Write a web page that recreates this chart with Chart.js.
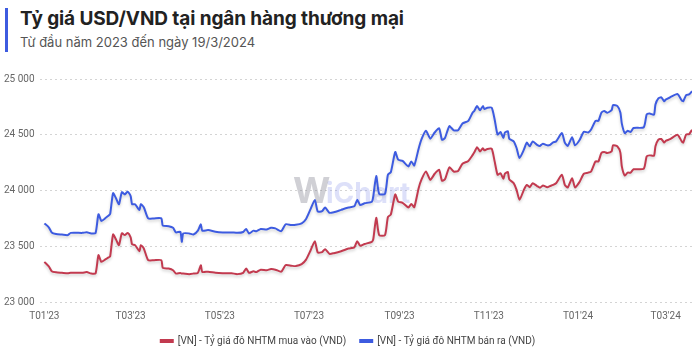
<!DOCTYPE html>
<html>
<head>
<meta charset="utf-8">
<script src="https://cdn.jsdelivr.net/npm/chart.js@4"></script>
<style>
    html, body { margin: 0; padding: 0; background: #fff; }
    body { width: 700px; height: 353px; overflow: hidden; position: relative; font-family: Inter, "Noto Sans", sans-serif; }
    .head { position: absolute; left: 5px; top: 8px; height: 44px; border-left: 3px solid #3d5be0; padding-left: 12px; }
    .head h1 { margin: 0; font-size: 19px; font-weight: 700; color: #222; line-height: 22px; letter-spacing: -0.1px; }
    .head p { margin: 4px 0 0; font-size: 13px; color: #555; line-height: 16px; }
    .chart-box { position: absolute; left: 0; top: 60px; width: 700px; height: 296px; }
</style>
</head>
<body>
<div class="head">
    <h1>Tỷ giá USD/VND tại ngân hàng thương mại</h1>
    <p>Từ đầu năm 2023 đến ngày 19/3/2024</p>
</div>
<div class="chart-box"><canvas id="rates"></canvas></div>
<script>
// ngày tính từ 01/01/2023
const days = [
    0, 3, 5, 8, 12, 16, 18, 26, 29, 32, 35, 37, 39, 42, 44, 45, 47, 49, 51, 53,
    55, 57, 59, 60, 62, 65, 66, 68, 71, 75, 80, 81, 85, 88, 90, 93, 94, 95, 99, 102,
    105, 107, 108, 112, 117, 122, 128, 132, 136, 138, 140, 143, 145, 148, 152, 155, 158, 162, 165, 169,
    172, 176, 179, 182, 185, 187, 190, 192, 195, 198, 203, 208, 212, 214, 216, 219, 224, 225, 227, 229,
    233, 235, 237, 240, 242, 245, 249, 251, 253, 256, 258, 261, 264, 267, 270, 272, 274, 277, 280, 283,
    286, 290, 293, 294, 296, 298, 300, 301, 303, 306, 308, 310, 312, 314, 315, 317, 318, 321, 323, 325,
    328, 330, 332, 334, 337, 339, 341, 344, 346, 348, 350, 354, 356, 358, 361, 363, 366, 369, 372, 374,
    377, 379, 381, 383, 385, 388, 389, 392, 394, 395, 397, 399, 401, 403, 410, 412, 414, 417, 418, 420,
    422, 424, 425, 428, 433, 436, 437, 439, 441, 443
];

// [VN] - Tỷ giá đô NHTM bán ra
const sellRates = [
    23705, 23670, 23624, 23610, 23605, 23600, 23620, 23620, 23625, 23615, 23618, 23787, 23727, 23755, 23775, 23790, 23976, 23930, 23877, 23985,
    23965, 23990, 23950, 23877, 23877, 23826, 23877, 23850, 23750, 23750, 23750, 23685, 23680, 23665, 23624, 23630, 23540, 23615, 23615, 23605,
    23640, 23697, 23640, 23645, 23630, 23624, 23624, 23620, 23628, 23655, 23615, 23640, 23635, 23655, 23650, 23665, 23660, 23635, 23697, 23690,
    23692, 23705, 23745, 23830, 23916, 23811, 23815, 23847, 23800, 23805, 23826, 23847, 23858, 23916, 23870, 23885, 23900, 23950, 24130, 23970,
    23970, 24141, 24165, 24345, 24276, 24265, 24216, 24261, 24225, 24375, 24460, 24535, 24465, 24520, 24558, 24455, 24470, 24577, 24540, 24540,
    24600, 24625, 24700, 24712, 24757, 24720, 24757, 24730, 24742, 24742, 24637, 24502, 24525, 24471, 24520, 24532, 24465, 24441, 24381, 24291,
    24366, 24430, 24396, 24440, 24410, 24400, 24420, 24405, 24410, 24432, 24440, 24515, 24430, 24400, 24477, 24405, 24450, 24526, 24520, 24547,
    24625, 24625, 24697, 24712, 24697, 24720, 24766, 24757, 24700, 24600, 24515, 24535, 24525, 24560, 24567, 24682, 24690, 24680, 24772, 24826,
    24835, 24800, 24815, 24835, 24865, 24808, 24800, 24856, 24862, 24890
];

// [VN] - Tỷ giá đô NHTM mua vào
const buyRates = [
    23360, 23320, 23276, 23266, 23262, 23258, 23262, 23262, 23268, 23255, 23256, 23420, 23360, 23385, 23400, 23410, 23606, 23560, 23510, 23616,
    23600, 23620, 23580, 23517, 23510, 23456, 23510, 23480, 23375, 23375, 23375, 23306, 23300, 23285, 23255, 23260, 23255, 23255, 23250, 23255,
    23262, 23330, 23270, 23272, 23262, 23258, 23258, 23250, 23262, 23300, 23262, 23275, 23268, 23290, 23285, 23295, 23290, 23272, 23330, 23325,
    23322, 23340, 23380, 23460, 23546, 23444, 23448, 23474, 23432, 23438, 23455, 23480, 23490, 23546, 23505, 23520, 23540, 23565, 23755, 23600,
    23600, 23762, 23785, 23965, 23901, 23890, 23847, 23880, 23850, 24021, 24100, 24171, 24096, 24150, 24186, 24087, 24100, 24207, 24170, 24175,
    24240, 24265, 24320, 24340, 24387, 24350, 24380, 24360, 24372, 24375, 24261, 24141, 24155, 24105, 24150, 24166, 24100, 24066, 24006, 23916,
    24006, 24050, 24030, 24065, 24040, 24025, 24045, 24030, 24040, 24050, 24065, 24141, 24050, 24027, 24110, 24027, 24075, 24150, 24160, 24171,
    24261, 24261, 24336, 24345, 24336, 24350, 24405, 24395, 24340, 24216, 24135, 24160, 24160, 24190, 24195, 24306, 24315, 24312, 24396, 24456,
    24462, 24430, 24445, 24460, 24500, 24441, 24430, 24502, 24505, 24545
];

const tickDays = [0, 59, 120, 181, 243, 304, 365, 425];
const tickLabels = ["T01'23", "T03'23", "T05'23", "T07'23", "T09'23", "T11'23", "T01'24", "T03'24"];

const seriesNames = ['[VN] - Tỷ giá đô NHTM mua vào (VND)', '[VN] - Tỷ giá đô NHTM bán ra (VND)'];

function toPoints(values) {
    return values.map((v, i) => ({ x: days[i], y: v }));
}

function formatNumber(v) {
    return String(v).replace(/\B(?=(\d{3})+(?!\d))/g, ' ');
}

// chữ mờ WiChart ở giữa
const watermark = {
    id: 'watermark',
    beforeDatasetsDraw(chart) {
        const { ctx, chartArea } = chart;
        const cx = (chartArea.left + chartArea.right) / 2 - 10;
        const cy = (chartArea.top + chartArea.bottom) / 2 + 2;
        ctx.save();
        ctx.textBaseline = 'middle';
        ctx.font = 'bold 36px Inter, sans-serif';
        ctx.fillStyle = 'rgba(110, 110, 125, 0.32)';
        ctx.fillText('W', cx - 63, cy);
        ctx.font = 'bold 28px Inter, sans-serif';
        ctx.fillStyle = 'rgba(120, 130, 230, 0.25)';
        ctx.fillText('iChart', cx - 30, cy + 2);
        ctx.restore();
    }
};

// bóng nhẹ dưới đường
const lineShadow = {
    id: 'lineShadow',
    beforeDatasetDraw(chart) {
        const ctx = chart.ctx;
        ctx.save();
        ctx.shadowColor = 'rgba(0, 0, 0, 0.18)';
        ctx.shadowBlur = 3;
        ctx.shadowOffsetY = 2;
    },
    afterDatasetDraw(chart) {
        chart.ctx.restore();
    }
};

new Chart(document.getElementById('rates'), {
    type: 'line',
    data: {
        datasets: [
            {
                label: seriesNames[0],
                data: toPoints(buyRates),
                borderColor: '#c23a4f',
                backgroundColor: '#c23a4f',
                borderWidth: 2,
                pointRadius: 0,
                tension: 0.2
            },
            {
                label: seriesNames[1],
                data: toPoints(sellRates),
                borderColor: '#3d5be0',
                backgroundColor: '#3d5be0',
                borderWidth: 2,
                pointRadius: 0,
                tension: 0.2
            }
        ]
    },
    options: {
        responsive: true,
        maintainAspectRatio: false,
        animation: false,
        layout: { padding: { left: 4, right: 8, top: 19, bottom: 0 } },
        scales: {
            x: {
                type: 'linear',
                min: -3,
                max: 443,
                grid: { display: false },
                border: { display: false },
                afterBuildTicks: (scale) => {
                    scale.ticks = tickDays.map(v => ({ value: v }));
                },
                ticks: {
                    autoSkip: false,
                    maxRotation: 0,
                    padding: 0,
                    color: '#666',
                    font: { family: 'Roboto, sans-serif', size: 10 },
                    callback: (value) => tickLabels[tickDays.indexOf(value)] ?? ''
                }
            },
            y: {
                min: 23000,
                max: 25000,
                border: { display: false, dash: [2, 3] },
                grid: {
                    color: '#d4d4d4',
                    drawTicks: false
                },
                afterFit: (scale) => { scale.width = 36; },
                ticks: {
                    stepSize: 500,
                    crossAlign: 'far',
                    padding: 6,
                    color: '#666',
                    font: { family: 'Roboto, sans-serif', size: 10 },
                    callback: (value) => formatNumber(value)
                }
            }
        },
        plugins: {
            legend: {
                position: 'bottom',
                labels: {
                    boxWidth: 12,
                    boxHeight: 2,
                    padding: 14,
                    color: '#444',
                    font: { family: '"Liberation Sans Narrow", Roboto, sans-serif', size: 10 }
                }
            },
            tooltip: { enabled: false }
        }
    },
    plugins: [watermark, lineShadow]
});
</script>
</body>
</html>
